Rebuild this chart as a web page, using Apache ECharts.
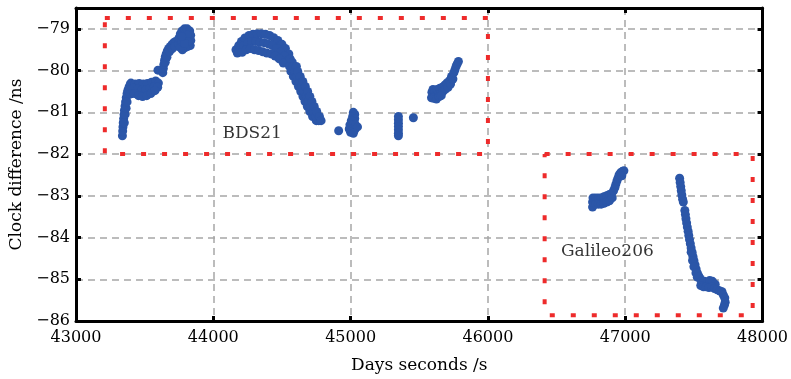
<!DOCTYPE html>
<html>
<head>
<meta charset="utf-8">
<script src="https://cdn.jsdelivr.net/npm/echarts@6/dist/echarts.min.js"></script>
<style>
  html, body { margin: 0; padding: 0; background: #fff; }
  #chart { width: 791px; height: 379px; }
</style>
</head>
<body>
<div id="chart"></div>
<script>
// x axis ticks (days seconds) and y axis ticks (ns)
const xTicks = [43000, 44000, 45000, 46000, 47000, 48000];
const yTicks = [-86, -85, -84, -83, -82, -81, -80, -79];

// BDS21 clock difference points [s, ns]
const bds21 = [
  [43338,-81.56],[43340,-81.45],[43342,-81.35],[43344,-81.25],[43347,-81.15],[43350,-81.05],
  [43353,-80.95],[43357,-80.85],[43361,-80.75],[43366,-80.65],[43372,-80.55],[43378,-80.47],
  [43386,-80.4],[43395,-80.33],[43352,-81.25],[43358,-81.05],[43365,-80.9],[43372,-80.75],
  [43400,-80.3],[43430,-80.32],[43460,-80.31],[43490,-80.32],[43520,-80.31],[43550,-80.28],
  [43580,-80.25],[43600,-80.3],
  [43390,-80.45],[43420,-80.42],[43450,-80.44],[43480,-80.46],[43510,-80.45],[43540,-80.42],
  [43570,-80.38],[43595,-80.4],
  [43395,-80.56],[43425,-80.55],[43455,-80.6],[43485,-80.62],[43515,-80.6],[43545,-80.55],[43575,-80.48],
  [43597,-79.99],
  [43632,-80.05],[43636,-79.95],[43640,-79.85],[43645,-79.75],[43650,-79.67],[43657,-79.6],
  [43665,-79.53],[43675,-79.47],[43688,-79.42],[43700,-79.37],[43712,-79.33],[43725,-79.3],
  [43650,-79.8],[43662,-79.68],[43680,-79.55],[43700,-79.48],[43720,-79.42],
  [43745,-79.35],[43750,-79.22],[43760,-79.12],[43772,-79.05],[43790,-79.0],[43810,-79.0],
  [43828,-79.05],[43835,-79.15],[43836,-79.28],[43832,-79.4],[43815,-79.42],[43795,-79.45],
  [43775,-79.5],[43760,-79.45],[43770,-79.3],[43790,-79.2],[43810,-79.15],[43815,-79.3],
  [43790,-79.35],[43770,-79.18],
  [44165,-79.5],[44185,-79.4],[44205,-79.3],[44230,-79.22],[44260,-79.16],[44290,-79.13],
  [44320,-79.12],[44350,-79.12],[44380,-79.13],[44410,-79.16],[44440,-79.21],[44470,-79.28],
  [44500,-79.37],[44525,-79.47],[44550,-79.6],
  [44190,-79.52],[44220,-79.4],[44250,-79.33],[44280,-79.3],[44310,-79.3],[44340,-79.32],
  [44370,-79.33],[44400,-79.36],[44430,-79.4],[44460,-79.47],[44490,-79.55],[44520,-79.65],[44545,-79.75],
  [44175,-79.58],[44210,-79.56],[44240,-79.5],[44270,-79.47],[44300,-79.5],[44330,-79.52],
  [44360,-79.55],[44390,-79.58],[44420,-79.6],[44450,-79.65],[44480,-79.72],[44510,-79.82],
  [44560,-79.72],[44575,-79.8],[44585,-79.9],[44570,-79.9],
  [44555,-79.9],[44565,-80.02],[44583,-80.14],[44602,-80.26],[44620,-80.38],[44637,-80.5],
  [44653,-80.62],[44668,-80.74],[44685,-80.86],[44703,-80.98],[44723,-81.1],[44750,-81.2],
  [44580,-79.9],[44590,-80.02],[44608,-80.14],[44627,-80.26],[44645,-80.38],[44662,-80.5],
  [44678,-80.62],[44693,-80.74],[44710,-80.86],[44728,-80.98],[44748,-81.1],[44768,-81.2],
  [44605,-79.9],[44615,-80.02],[44633,-80.14],[44652,-80.26],[44670,-80.38],[44687,-80.5],
  [44703,-80.62],[44718,-80.74],[44735,-80.86],[44753,-80.98],[44773,-81.1],[44785,-81.2],
  [44913,-81.44],
  [45020,-81.0],[45030,-81.05],[45015,-81.1],[45030,-81.15],[45005,-81.2],[45025,-81.22],
  [44995,-81.3],[45015,-81.3],[45035,-81.3],[44990,-81.4],[45010,-81.42],[45030,-81.42],
  [45050,-81.35],[45000,-81.48],[45020,-81.5],
  [45348,-81.1],[45348,-81.18],[45348,-81.26],[45348,-81.34],[45348,-81.42],[45348,-81.5],[45348,-81.56],
  [45457,-81.13],
  [45589,-80.65],[45592,-80.52],[45600,-80.45],[45615,-80.5],[45612,-80.62],[45630,-80.45],
  [45635,-80.58],[45650,-80.42],[45655,-80.55],[45668,-80.4],[45672,-80.5],[45685,-80.35],
  [45690,-80.45],[45700,-80.3],[45710,-80.4],[45720,-80.24],[45728,-80.32],[45735,-80.14],
  [45745,-80.2],[45752,-80.05],[45760,-79.98],[45768,-79.9],[45776,-79.84],[45785,-79.78],
  [45602,-80.66],[45625,-80.68],[45645,-80.62],[45660,-80.6]
];

// Galileo206 clock difference points [s, ns]
const galileo206 = [
  [46762,-83.27],[46762,-83.15],[46765,-83.05],[46785,-83.05],[46785,-83.2],[46805,-83.05],
  [46805,-83.2],[46825,-83.05],[46825,-83.2],[46845,-83.02],[46845,-83.18],[46865,-83.0],
  [46865,-83.15],[46885,-82.97],[46885,-83.12],[46900,-82.95],[46905,-83.05],[46915,-82.88],
  [46925,-82.8],[46932,-82.72],[46940,-82.64],[46948,-82.57],[46955,-82.5],[46965,-82.45],
  [46978,-82.42],[46990,-82.4],[46975,-82.52],
  [47396,-82.58],[47400,-82.68],[47404,-82.78],[47408,-82.88],[47412,-82.98],[47418,-83.08],[47423,-83.15],
  [47434,-83.35],[47438,-83.45],[47442,-83.55],[47447,-83.65],[47452,-83.75],[47458,-83.85],
  [47463,-83.95],[47468,-84.05],[47474,-84.15],[47480,-84.25],[47487,-84.35],[47493,-84.45],
  [47500,-84.55],[47508,-84.65],[47516,-84.75],[47525,-84.85],[47535,-84.92],[47545,-84.98],
  [47480,-84.35],[47490,-84.55],[47500,-84.7],[47515,-84.85],[47525,-84.95],
  [47555,-85.05],[47575,-85.05],[47595,-85.07],[47615,-85.03],[47635,-85.05],[47655,-85.12],
  [47550,-85.15],[47570,-85.18],[47590,-85.18],[47610,-85.2],[47630,-85.18],[47650,-85.22],
  [47670,-85.25],[47690,-85.28],[47705,-85.3],[47715,-85.38],[47725,-85.45],[47728,-85.55],
  [47722,-85.62],[47714,-85.69]
];

// dotted boxes round each satellite
const bdsBox = [[43210,-78.74],[46000,-78.74],[46000,-82],[43210,-82],[43210,-78.74]];
const galBox = [[46413,-82],[47928,-82],[47928,-85.86],[46413,-85.86],[46413,-82]];

// box captions
const captions = [
  { name: 'BDS21', value: [44283, -81.52] },
  { name: 'Galileo206', value: [46870, -84.33] }
];

const font = 'DejaVu Serif';
const ink = '#000';
const chart = echarts.init(document.getElementById('chart'));

const gridLine = { show: true, lineStyle: { color: '#a6a6a6', width: 1.5, type: [7, 5] } };
const frameLine = { show: true, lineStyle: { color: '#000', width: 3 } };
const frameTick = { show: true, inside: true, length: 5, lineStyle: { color: '#000', width: 3 } };

chart.setOption({
  animation: false,
  grid: { left: 76, right: 25, top: 8, bottom: 55 },
  xAxis: [{
    type: 'value', min: xTicks[0], max: xTicks[xTicks.length - 1], interval: 1000,
    name: 'Days seconds /s', nameLocation: 'middle', nameGap: 36,
    nameTextStyle: { fontFamily: font, fontSize: 17, color: ink },
    axisLine: frameLine, axisTick: frameTick, splitLine: gridLine,
    axisLabel: { fontFamily: font, fontSize: 16, color: ink, margin: 9, formatter: v => String(v) }
  }, {
    type: 'value', position: 'top', min: xTicks[0], max: xTicks[xTicks.length - 1], interval: 1000,
    axisLine: frameLine, axisTick: frameTick, splitLine: { show: false }, axisLabel: { show: false }
  }],
  yAxis: [{
    type: 'value', min: yTicks[0], max: -78.5, interval: 1,
    name: 'Clock difference /ns', nameLocation: 'middle', nameGap: 50,
    nameTextStyle: { fontFamily: font, fontSize: 17, color: ink },
    axisLine: frameLine, axisTick: frameTick, splitLine: gridLine,
    axisLabel: {
      fontFamily: font, fontSize: 16, color: ink, margin: 6,
      formatter: v => yTicks.includes(v) ? String(v).replace('-', '\u2212') : ''
    }
  }, {
    type: 'value', position: 'right', min: yTicks[0], max: -78.5, interval: 1,
    axisLine: frameLine, axisTick: frameTick, splitLine: { show: false }, axisLabel: { show: false }
  }],
  series: [
    {
      type: 'line', data: bdsBox, symbol: 'none', z: 3,
      lineStyle: { color: '#ee2b2b', width: 4, type: [5, 16] }
    },
    {
      type: 'line', data: galBox, symbol: 'none', z: 3,
      lineStyle: { color: '#ee2b2b', width: 4, type: [5, 16] }
    },
    {
      type: 'scatter', data: bds21, symbolSize: 9, z: 4,
      itemStyle: { color: '#2b56a8', opacity: 1 }
    },
    {
      type: 'scatter', data: galileo206, symbolSize: 9, z: 4,
      itemStyle: { color: '#2b56a8', opacity: 1 }
    },
    {
      type: 'scatter', data: captions, symbolSize: 0, z: 5,
      label: {
        show: true, position: 'inside', formatter: p => p.name,
        fontFamily: font, fontSize: 17, color: ink
      }
    }
  ]
});
</script>
</body>
</html>
